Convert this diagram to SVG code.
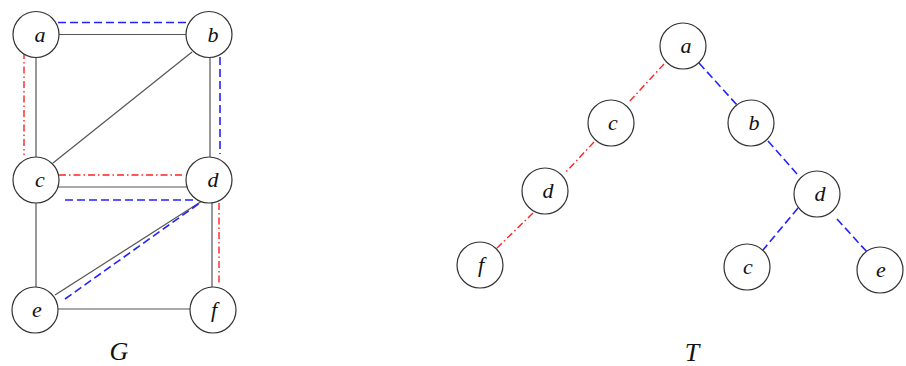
<svg xmlns="http://www.w3.org/2000/svg" width="906" height="366" viewBox="0 0 906 366">
<style>
.n circle{fill:#fff;stroke:#333;stroke-width:1.2}
.n text{font-family:"Liberation Serif","Times New Roman",serif;font-style:italic;font-size:22px;text-anchor:middle;fill:#111}
.k{stroke:#555;stroke-width:1.2;fill:none}
.r{stroke:#f22;stroke-width:1.4;stroke-dasharray:7 3 1.5 3;fill:none}
.b{stroke:#22f;stroke-width:1.6;stroke-dasharray:8 4;fill:none}
.t{font-family:"Liberation Serif","Times New Roman",serif;font-style:italic;font-size:26px;text-anchor:middle;fill:#111}
</style>
<g id="connectors">
<line class="k" x1="58" y1="34.5" x2="187" y2="34.5"/>
<line class="b" x1="58" y1="22.5" x2="189" y2="22.5"/>
<line class="k" x1="36" y1="57" x2="36" y2="157"/>
<line class="r" x1="24" y1="52" x2="24" y2="155"/>
<line class="k" x1="210" y1="57" x2="210" y2="157"/>
<line class="b" x1="220" y1="57" x2="220" y2="154"/>
<line class="k" x1="53" y1="163" x2="192" y2="52"/>
<line class="r" x1="59" y1="175" x2="183" y2="175"/>
<line class="k" x1="58" y1="187" x2="188" y2="187"/>
<line class="b" x1="65" y1="200" x2="198" y2="200"/>
<line class="k" x1="36" y1="203" x2="36" y2="287"/>
<line class="k" x1="212" y1="202" x2="212" y2="287"/>
<line class="r" x1="219" y1="203" x2="219" y2="284"/>
<line class="k" x1="55" y1="295" x2="202" y2="201"/>
<line class="b" x1="65" y1="299" x2="204" y2="200"/>
<line class="k" x1="58" y1="309" x2="190" y2="309"/>
<line class="r" x1="664" y1="64" x2="628" y2="103"/>
<line class="b" x1="699" y1="63" x2="737" y2="105"/>
<line class="r" x1="594" y1="142" x2="565" y2="173"/>
<line class="b" x1="768" y1="141" x2="797" y2="174"/>
<line class="r" x1="533" y1="213" x2="497" y2="248"/>
<line class="b" x1="798" y1="208" x2="763" y2="250"/>
<line class="b" x1="837" y1="219" x2="867" y2="252"/>
</g>
<g id="G-a" class="n"><circle cx="36" cy="34.5" r="23"/><text x="40" y="42">a</text></g>
<g id="G-b" class="n"><circle cx="209" cy="34.5" r="23"/><text x="213" y="42">b</text></g>
<g id="G-c" class="n"><circle cx="36" cy="180" r="23"/><text x="40" y="187">c</text></g>
<g id="G-d" class="n"><circle cx="209" cy="180" r="23"/><text x="213" y="187">d</text></g>
<g id="G-e" class="n"><circle cx="35" cy="310" r="23"/><text x="37" y="317">e</text></g>
<g id="G-f" class="n"><circle cx="213" cy="310" r="23"/><text x="214" y="317">f</text></g>
<text class="t" x="119" y="360">G</text>
<g id="T-a" class="n"><circle cx="683" cy="46" r="23"/><text x="686" y="53">a</text></g>
<g id="T-c" class="n"><circle cx="611" cy="123" r="23"/><text x="613" y="130">c</text></g>
<g id="T-b" class="n"><circle cx="751" cy="123" r="23"/><text x="754" y="130">b</text></g>
<g id="T-d1" class="n"><circle cx="545" cy="191" r="23"/><text x="548" y="198">d</text></g>
<g id="T-d2" class="n"><circle cx="817" cy="194" r="23"/><text x="820" y="201">d</text></g>
<g id="T-f" class="n"><circle cx="480" cy="265" r="23"/><text x="481" y="272">f</text></g>
<g id="T-c2" class="n"><circle cx="747" cy="267" r="23"/><text x="748" y="274">c</text></g>
<g id="T-e" class="n"><circle cx="880" cy="270" r="23"/><text x="881" y="277">e</text></g>
<text class="t" x="692" y="361">T</text>
</svg>
